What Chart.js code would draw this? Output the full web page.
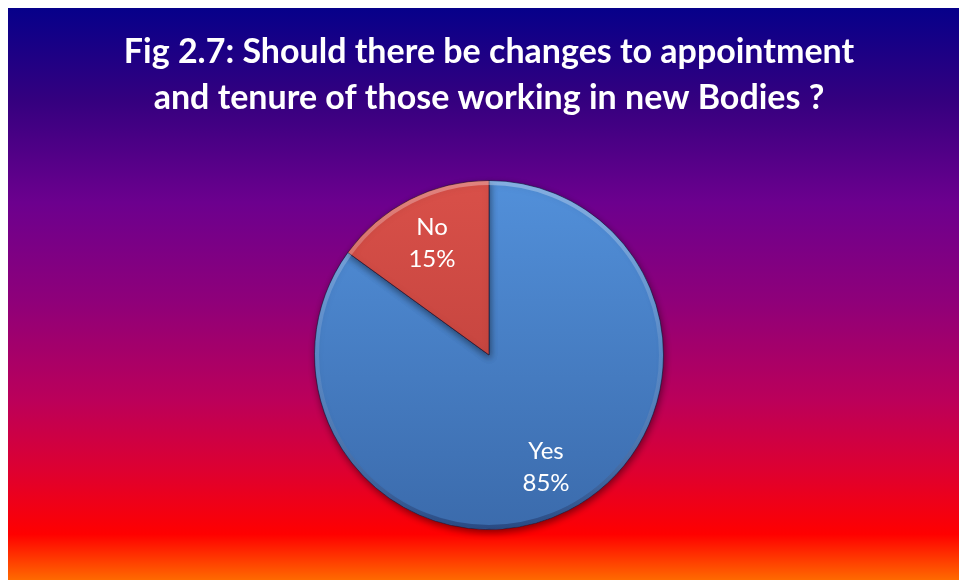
<!DOCTYPE html>
<html>
<head>
<meta charset="utf-8">
<script src="https://cdn.jsdelivr.net/npm/chart.js@4.4.0/dist/chart.umd.min.js"></script>
<style>
  html, body { margin: 0; padding: 0; background: #fff; }
  #wrap { width: 959px; height: 580px; }
</style>
</head>
<body>
<div id="wrap"><canvas id="pie"></canvas></div>
<script>
var titleLines = ["Fig 2.7: Should there be changes to appointment", "and tenure of those working in new Bodies ?"];
var answers = ["Yes", "No"];
var shares = [85, 15];
var sliceTop = ["#5290da", "#d95049"];
var sliceBottom = ["#3b6bac", "#b53c37"];

// vertical backdrop: navy -> purple -> magenta -> red -> orange
var backdropStops = [
    [0.00, "#06008a"],
    [0.16, "#34007f"],
    [0.34, "#6c008e"],
    [0.51, "#8e007a"],
    [0.685, "#bb005a"],
    [0.81, "#de0030"],
    [0.92, "#ff0000"],
    [1.00, "#ff6a00"]
];

var backdrop = {
    id: "backdrop",
    beforeDraw: function(chart) {
        var ctx = chart.ctx;
        ctx.save();
        ctx.fillStyle = "#fff";
        ctx.fillRect(0, 0, chart.width, chart.height);
        var g = ctx.createLinearGradient(0, 8, 0, chart.height);
        backdropStops.forEach(function(s) { g.addColorStop(s[0], s[1]); });
        ctx.fillStyle = g;
        ctx.fillRect(8, 8, chart.width - 8, chart.height - 8);
        ctx.restore();
    }
};

var sliceShadow = {
    id: "sliceShadow",
    beforeDatasetsDraw: function(chart) {
        var ctx = chart.ctx;
        ctx.save();
        ctx.shadowColor = "rgba(0,0,0,0.45)";
        ctx.shadowBlur = 7;
        ctx.shadowOffsetX = 1;
        ctx.shadowOffsetY = 3;
    },
    afterDatasetsDraw: function(chart) {
        chart.ctx.restore();
    }
};

// soft rim so the pie looks a little bevelled, then the value labels
var rimAndLabels = {
    id: "rimAndLabels",
    afterDatasetsDraw: function(chart) {
        var ctx = chart.ctx;
        var arcs = chart.getDatasetMeta(0).data;
        ctx.save();
        arcs.forEach(function(arc) {
            var p = arc.getProps(["x", "y", "startAngle", "endAngle", "outerRadius"], true);
            var rim = ctx.createLinearGradient(0, p.y - p.outerRadius, 0, p.y + p.outerRadius);
            rim.addColorStop(0, "rgba(255,255,255,0.30)");
            rim.addColorStop(0.5, "rgba(255,255,255,0.10)");
            rim.addColorStop(1, "rgba(0,0,40,0.30)");
            ctx.beginPath();
            ctx.arc(p.x, p.y, p.outerRadius - 2.5, p.startAngle, p.endAngle);
            ctx.strokeStyle = rim;
            ctx.lineWidth = 4;
            ctx.stroke();
        });
        ctx.fillStyle = "#fff";
        ctx.font = "24px Lato";
        ctx.textAlign = "center";
        ctx.textBaseline = "middle";
        arcs.forEach(function(arc, i) {
            var p = arc.getProps(["x", "y", "startAngle", "endAngle", "outerRadius"], true);
            var mid = (p.startAngle + p.endAngle) / 2;
            var r = p.outerRadius * 0.72;
            var cx = p.x + Math.cos(mid) * r;
            var cy = p.y + Math.sin(mid) * r;
            ctx.fillText(answers[i], cx, cy - 16);
            ctx.fillText(shares[i] + "%", cx, cy + 16);
        });
        ctx.restore();
    }
};

new Chart(document.getElementById("pie"), {
    type: "pie",
    data: {
        labels: answers,
        datasets: [{
            data: shares,
            backgroundColor: function(c) {
                var area = c.chart.chartArea;
                if (!area) return sliceTop[c.dataIndex];
                var g = c.chart.ctx.createLinearGradient(0, area.top, 0, area.bottom);
                g.addColorStop(0, sliceTop[c.dataIndex]);
                g.addColorStop(1, sliceBottom[c.dataIndex]);
                return g;
            },
            borderColor: "rgba(25,20,50,0.6)",
            borderWidth: 1
        }]
    },
    options: {
        responsive: true,
        maintainAspectRatio: false,
        animation: false,
        layout: { padding: { top: 0, bottom: 50, left: 19, right: 0 } },
        plugins: {
            legend: { display: false },
            tooltip: { enabled: false },
            title: {
                display: true,
                text: titleLines,
                color: "#fff",
                font: { family: "Lato", size: 34, weight: "bold", lineHeight: 46 / 34 },
                padding: { top: 29, bottom: 59 }
            }
        }
    },
    plugins: [backdrop, sliceShadow, rimAndLabels]
});
</script>
</body>
</html>
